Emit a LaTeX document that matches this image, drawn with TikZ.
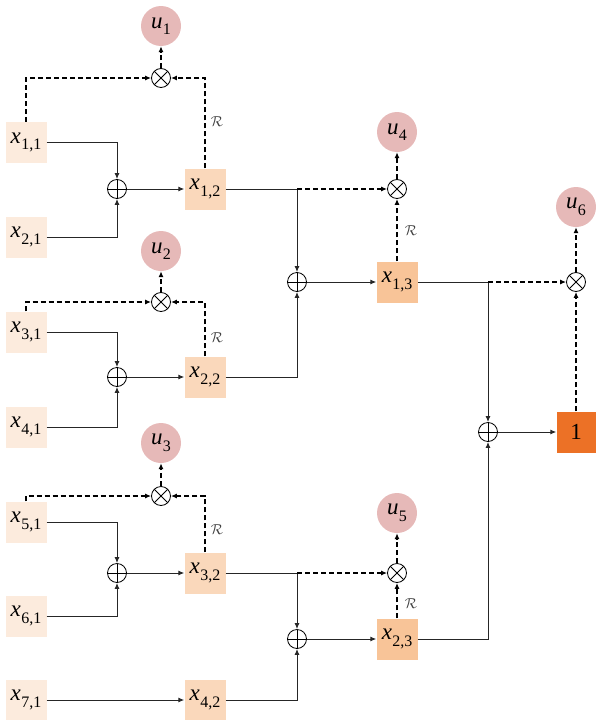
\documentclass[tikz,border=0pt]{standalone}
\usepackage{fontspec}
\setmainfont{Liberation Serif}
\usetikzlibrary{arrows.meta}
\definecolor{cA}{HTML}{FCEBDD}
\definecolor{cB}{HTML}{FAD8BB}
\definecolor{cC}{HTML}{F8C498}
\definecolor{cF}{HTML}{EC7126}
\definecolor{cU}{HTML}{E6B9B8}
\newcommand{\xsub}[1]{\textit{x}\kern0.3pt\raisebox{-0.28em}{\fontsize{16}{16}\selectfont #1}}
\newcommand{\usub}[1]{\textit{u}\kern0.3pt\raisebox{-0.28em}{\fontsize{16}{16}\selectfont #1}}
\begin{document}
\begin{tikzpicture}[x=1pt,y=-1pt,
  font=\fontsize{23}{26}\selectfont,
  boxA/.style={rectangle, fill=cA, minimum width=41pt, minimum height=41pt, inner sep=0pt},
  boxB/.style={boxA, fill=cB},
  boxC/.style={boxA, fill=cC},
  boxF/.style={boxA, fill=cF, minimum width=39pt},
  uball/.style={circle, fill=cU, minimum size=40pt, inner sep=0pt},
  oplus/.style={circle, draw=black, line width=0.8pt, minimum size=19pt, inner sep=0pt,
    path picture={\draw[line width=0.8pt] (path picture bounding box.north) -- (path picture bounding box.south)
      (path picture bounding box.west) -- (path picture bounding box.east);}},
  otimes/.style={circle, draw=black, line width=0.8pt, minimum size=19pt, inner sep=0pt,
    path picture={\draw[line width=0.8pt] (path picture bounding box.north west) -- (path picture bounding box.south east)
      (path picture bounding box.south west) -- (path picture bounding box.north east);}},
  sol/.style={draw=black!85, line width=1pt},
  dsh/.style={draw=black, line width=1.9pt, dash pattern=on 5pt off 3pt},
  arr/.style={-{Latex[length=6pt,width=5pt]}},
  rlab/.style={font=\fontsize{14}{14}\selectfont, text=black!75, inner sep=0pt}
]
\useasboundingbox (0,0) rectangle (595,720);

% level 1 inputs
\node[boxA] (x11) at (26,142.5) {\xsub{1,1}};
\node[boxA] (x21) at (26,237) {\xsub{2,1}};
\node[boxA] (x31) at (26,332) {\xsub{3,1}};
\node[boxA] (x41) at (26,427) {\xsub{4,1}};
\node[boxA] (x51) at (26,522) {\xsub{5,1}};
\node[boxA] (x61) at (26,616) {\xsub{6,1}};
\node[boxA] (x71) at (26,700) {\xsub{7,1}};

% level 1 sums
\node[oplus] (p1) at (117,189) {};
\node[oplus] (p2) at (117,377) {};
\node[oplus] (p3) at (117,573) {};

% level 2
\node[boxB] (x12) at (205,189) {\xsub{1,2}};
\node[boxB] (x22) at (205,377) {\xsub{2,2}};
\node[boxB] (x32) at (205,573) {\xsub{3,2}};
\node[boxB] (x42) at (205,700) {\xsub{4,2}};

% level 1 products and outputs
\node[otimes] (m1) at (161,78) {};
\node[otimes] (m2) at (161,302) {};
\node[otimes] (m3) at (161,496) {};
\node[uball] (u1) at (161,26) {\usub{1}};
\node[uball] (u2) at (161,251) {\usub{2}};
\node[uball] (u3) at (161,443) {\usub{3}};

% level 2 sums
\node[oplus] (q1) at (297,282) {};
\node[oplus] (q2) at (297,639) {};

% level 3
\node[boxC] (x13) at (397,282) {\xsub{1,3}};
\node[boxC] (x23) at (397,639) {\xsub{2,3}};
\node[otimes] (m4) at (397,189) {};
\node[otimes] (m5) at (397,573) {};
\node[uball] (u4) at (397,132) {\usub{4}};
\node[uball] (u5) at (397,513) {\usub{5}};

% level 4
\node[oplus] (s1) at (488,432) {};
\node[boxF] (y) at (576,432) {1};
\node[otimes] (m6) at (576,282) {};
\node[uball] (u6) at (576,207) {\usub{6}};

% R labels
\node[rlab] (r1) at (217,122) {$\mathcal{R}$};
\node[rlab] (r2) at (217,338) {$\mathcal{R}$};
\node[rlab] (r3) at (217,530) {$\mathcal{R}$};
\node[rlab] (r4) at (411,231) {$\mathcal{R}$};
\node[rlab] (r5) at (411,604) {$\mathcal{R}$};

% level 1 solid connectors
\draw[sol,arr] (x11.east) -| (p1);
\draw[sol,arr] (x21.east) -| (p1);
\draw[sol,arr] (p1) -- (x12);
\draw[sol,arr] (x31.east) -| (p2);
\draw[sol,arr] (x41.east) -| (p2);
\draw[sol,arr] (p2) -- (x22);
\draw[sol,arr] (x51.east) -| (p3);
\draw[sol,arr] (x61.east) -| (p3);
\draw[sol,arr] (p3) -- (x32);
\draw[sol,arr] (x71) -- (x42);

% level 1 dashed connectors
\draw[dsh,arr] (x11.north) |- (m1);
\draw[dsh,arr] (x12.north) |- (m1);
\draw[dsh,arr] (m1) -- (u1);
\draw[dsh,arr] (x31.north) |- (m2);
\draw[dsh,arr] (x22.north) |- (m2);
\draw[dsh,arr] (m2) -- (u2);
\draw[dsh,arr] (x51.north) |- (m3);
\draw[dsh,arr] (x32.north) |- (m3);
\draw[dsh,arr] (m3) -- (u3);

% level 2 connectors
\coordinate (j1) at (q1 |- x12);
\coordinate (j2) at (q2 |- x32);
\draw[sol] (x12.east) -- (j1);
\draw[sol,arr] (j1) -- (q1);
\draw[dsh,arr] (j1) -- (m4);
\draw[sol,arr] (x22.east) -| (q1);
\draw[sol,arr] (q1) -- (x13);
\draw[dsh,arr] (x13.north) -- (m4);
\draw[dsh,arr] (m4) -- (u4);

\draw[sol] (x32.east) -- (j2);
\draw[sol,arr] (j2) -- (q2);
\draw[dsh,arr] (j2) -- (m5);
\draw[sol,arr] (x42.east) -| (q2);
\draw[sol,arr] (q2) -- (x23);
\draw[dsh,arr] (x23.north) -- (m5);
\draw[dsh,arr] (m5) -- (u5);

% level 3 connectors
\coordinate (j3) at (s1 |- x13);
\draw[sol] (x13.east) -- (j3);
\draw[sol,arr] (j3) -- (s1);
\draw[dsh,arr] (j3) -- (m6);
\draw[sol,arr] (x23.east) -| (s1);
\draw[sol,arr] (s1) -- (y);
\draw[dsh,arr] (y.north) -- (m6);
\draw[dsh,arr] (m6) -- (u6);
\end{tikzpicture}
\end{document}
